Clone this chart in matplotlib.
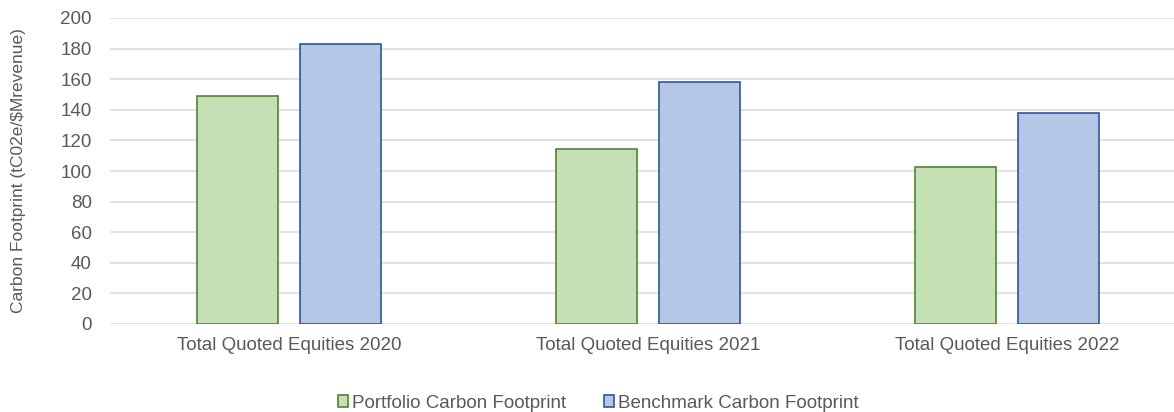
import matplotlib
matplotlib.use("Agg")
import matplotlib.pyplot as plt
from matplotlib.patches import Patch
import numpy as np

categories = ["Total Quoted Equities 2020", "Total Quoted Equities 2021", "Total Quoted Equities 2022"]
portfolio = [149, 114.5, 102.5]
benchmark = [183, 158, 138]
series_names = ["Portfolio Carbon Footprint", "Benchmark Carbon Footprint"]
yticks = [0, 20, 40, 60, 80, 100, 120, 140, 160, 180, 200]

plt.rcParams['font.family'] = ['Liberation Sans', 'DejaVu Sans']
txt = '#595959'
g_fill, g_edge = '#C5E0B4', '#548235'
b_fill, b_edge = '#B4C7E7', '#2F5597'

W, H = 1174, 412
fig = plt.figure(figsize=(W/100, H/100), dpi=100)
ax = fig.add_axes([110/W, 1-324/H, (1174-110)/W, (324-18)/H])

x = np.arange(len(categories))
bw = 0.2256
off = 0.1435
ax.bar(x - off, portfolio, bw, color=g_fill, edgecolor=g_edge, linewidth=1.2, zorder=3)
ax.bar(x + off, benchmark, bw, color=b_fill, edgecolor=b_edge, linewidth=1.2, zorder=3)

fs = 13.5
ax.set_xlim(-0.4986, 2.465)
ax.set_ylim(0, 200)
ax.set_yticks(yticks)
ax.set_yticklabels([str(v) for v in yticks], fontsize=fs, color=txt)
ax.set_xticks(x)
ax.set_xticklabels(categories, fontsize=fs, color=txt)
ax.tick_params(axis='both', length=0)
ax.tick_params(axis='y', pad=13)
ax.tick_params(axis='x', pad=9)
ax.yaxis.grid(True, color='#D9D9D9', linewidth=1.1, zorder=0)
for s in ax.spines.values():
    s.set_visible(False)

fig.text(19/W, 1-171/H, "Carbon Footprint (tC02e/$Mrevenue)", rotation=90,
         ha='center', va='center', fontsize=12.5, color=txt)

handles = [Patch(facecolor=g_fill, edgecolor=g_edge, linewidth=1.2),
           Patch(facecolor=b_fill, edgecolor=b_edge, linewidth=1.2)]
leg = fig.legend(handles, series_names, loc='center', bbox_to_anchor=(598/W, 1-403/H),
                 ncol=2, frameon=False, fontsize=fs, handlelength=0.55, handleheight=0.55,
                 handletextpad=0.2, columnspacing=2.0)
for t in leg.get_texts():
    t.set_color(txt)

fig.savefig("out.png", dpi=100)
